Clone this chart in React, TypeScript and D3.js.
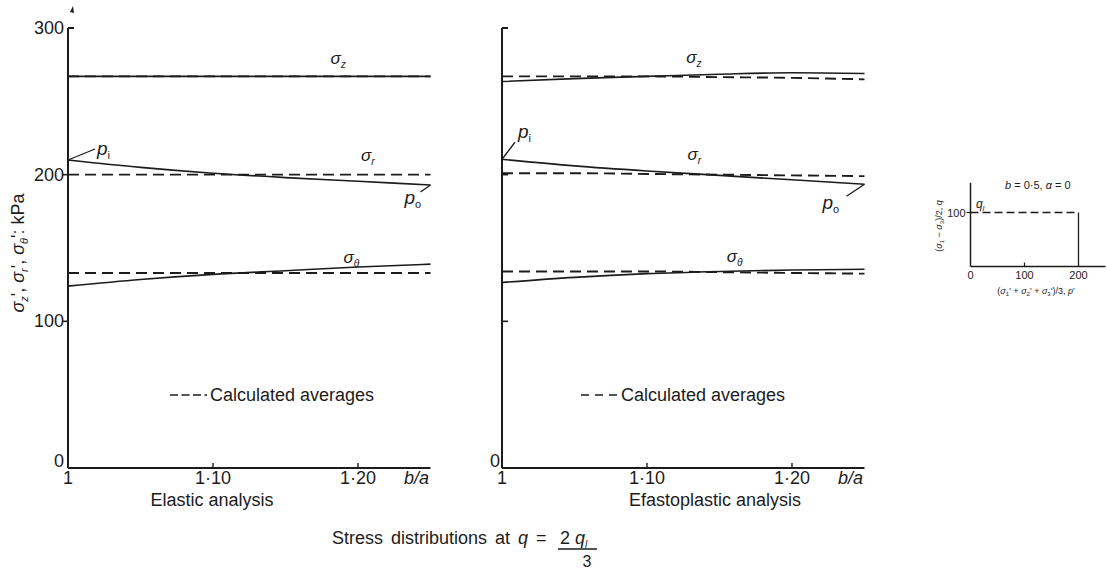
import React from 'react';
import * as d3 from 'd3';

// Radius ratio b/a sampled along the cylinder wall
const baRatio = [1.0, 1.05, 1.1, 1.15, 1.2, 1.25];

// Elastic analysis (kPa)
const elasticSigmaZ = [267, 267, 267, 267, 267, 267];
const elasticSigmaR = [210, 205, 201, 198, 195.5, 193];
const elasticSigmaTheta = [124, 128.5, 132, 134.5, 137, 139];
const elasticSigmaZAvg = [267, 267, 267, 267, 267, 267];
const elasticSigmaRAvg = [200, 200, 200, 200, 200, 200];
const elasticSigmaThetaAvg = [133, 133, 133, 133, 133, 133];

// Elastoplastic analysis (kPa)
const plasticSigmaZ = [263.5, 265.5, 267, 268.5, 269.5, 269];
const plasticSigmaR = [210.5, 206, 202.5, 199.5, 196.5, 193.5];
const plasticSigmaTheta = [126.5, 130, 132.5, 134, 135, 135.5];
const plasticSigmaZAvg = [267, 267, 267, 266.5, 266, 265];
const plasticSigmaRAvg = [201, 201, 200.5, 200, 199.5, 199];
const plasticSigmaThetaAvg = [134, 134, 134, 133.5, 133, 132.5];

// Axis ticks
const yTicks = [0, 100, 200, 300];
const yTickLabels = ['0', '100', '200', '300'];
const xTicks = [1, 1.1, 1.2];
const xTickLabels = ['1', '1·10', '1·20'];

// Stress path inset: q against p'
const insetDashP = [0, 200];
const insetDashQ = [100, 100];
const insetSolidP = [200, 200];
const insetSolidQ = [100, 0];
const insetXTicks = [0, 100, 200];
const insetYTicks = [100];

const INK = '#1c1c1c';
const FONT = '"Liberation Sans", Arial, Helvetica, sans-serif';

const yScale = d3.scaleLinear().domain([0, 300]).range([468, 28]);
const xLeft = d3.scaleLinear().domain([1, 1.25]).range([68, 430.5]);
const xRight = d3.scaleLinear().domain([1, 1.25]).range([502, 864.5]);

const insetX = d3.scaleLinear().domain([0, 250]).range([970.5, 1105.5]);
const insetY = d3.scaleLinear().domain([0, 100]).range([266.5, 212.5]);

function makeLine(x: d3.ScaleLinear<number, number>) {
  return d3
    .line<number>()
    .x((_, i) => x(baRatio[i]))
    .y((d) => yScale(d))
    .curve(d3.curveMonotoneX);
}

function Sigma({ x, y, sub, size = 17 }: { x: number; y: number; sub: string; size?: number }) {
  return (
    <text x={x} y={y} fontFamily={FONT} fontSize={size} fill={INK} fontStyle="italic">
      σ
      <tspan dy={4} fontSize={size * 0.6}>
        {sub}
      </tspan>
    </text>
  );
}

function PLabel({ x, y, sub }: { x: number; y: number; sub: string }) {
  return (
    <text x={x} y={y} fontFamily={FONT} fontSize={19} fill={INK}>
      <tspan fontStyle="italic">p</tspan>
      <tspan dy={4} fontSize={11}>
        {sub}
      </tspan>
    </text>
  );
}

function Legend({ x, y, dash }: { x: number; y: number; dash: string }) {
  return (
    <g>
      <line x1={x} x2={x + 37} y1={y} y2={y} stroke={INK} strokeWidth={1.6} strokeDasharray={dash} />
      <text x={x + 40} y={y + 6} fontFamily={FONT} fontSize={18} fill={INK}>
        Calculated averages
      </text>
    </g>
  );
}

type PanelProps = {
  x: d3.ScaleLinear<number, number>;
  solid: number[][];
  dashed: number[][];
  yLabels: boolean;
  tickSide: number;
  title: string;
  titleX: number;
};

function Panel({ x, solid, dashed, yLabels, tickSide, title, titleX }: PanelProps) {
  const line = makeLine(x);
  const [x0, x1] = x.range();
  const yBottom = yScale(0);
  const yTop = yScale(300);
  return (
    <g>
      {/* axes */}
      <line x1={x0} x2={x0} y1={yTop} y2={yBottom} stroke={INK} strokeWidth={2} />
      <line x1={x0} x2={x1} y1={yBottom} y2={yBottom} stroke={INK} strokeWidth={2} />
      <line x1={x0} x2={x0 + 6} y1={yTop} y2={yTop} stroke={INK} strokeWidth={2} />
      {yTicks.slice(1, 3).map((t) => (
        <line key={t} x1={x0} x2={x0 + tickSide * 6} y1={yScale(t)} y2={yScale(t)} stroke={INK} strokeWidth={1.6} />
      ))}
      {xTicks.slice(1).map((t) => (
        <line key={t} x1={x(t)} x2={x(t)} y1={yBottom} y2={yBottom - 5} stroke={INK} strokeWidth={1.4} />
      ))}
      {yLabels
        ? yTicks.map((t, i) => (
            <text
              key={t}
              x={x0 - 4}
              y={t === 0 ? yBottom - 7 : yScale(t)}
              textAnchor="end"
              dominantBaseline="central"
              fontFamily={FONT}
              fontSize={18}
              fill={INK}
            >
              {yTickLabels[i]}
            </text>
          ))
        : (
          <text x={x0 - 2} y={yBottom - 7} textAnchor="end" dominantBaseline="central" fontFamily={FONT} fontSize={18} fill={INK}>
            {yTickLabels[0]}
          </text>
        )}
      {xTicks.map((t, i) => (
        <text key={t} x={x(t)} y={484} textAnchor="middle" fontFamily={FONT} fontSize={18} fill={INK}>
          {xTickLabels[i]}
        </text>
      ))}
      <text x={x(1.25) - 14} y={484} textAnchor="middle" fontFamily={FONT} fontSize={18} fontStyle="italic" fill={INK}>
        b/a
      </text>
      <text x={titleX} y={506} textAnchor="middle" fontFamily={FONT} fontSize={18} fill={INK}>
        {title}
      </text>
      {/* stress curves */}
      {dashed.map((s, i) => (
        <path key={'d' + i} d={line(s) ?? ''} fill="none" stroke={INK} strokeWidth={1.9} strokeDasharray="11,6" />
      ))}
      {solid.map((s, i) => (
        <path key={'s' + i} d={line(s) ?? ''} fill="none" stroke={INK} strokeWidth={1.6} />
      ))}
    </g>
  );
}

export default function App() {
  const insetDash = d3
    .line<number>()
    .x((_, i) => insetX(insetDashP[i]))
    .y((d) => insetY(d));
  const insetSolid = d3
    .line<number>()
    .x((_, i) => insetX(insetSolidP[i]))
    .y((d) => insetY(d));

  return (
    <svg
      width={1107}
      height={573}
      viewBox="0 0 1107 573"
      style={{ position: 'absolute', left: 0, top: 0, background: '#fff' }}
    >
      <rect width={1107} height={573} fill="#fff" />

      {/* small arrowhead above the left stress axis */}
      <path d={`M${xLeft(1) + 2},${yScale(300) - 16} l3,-6 l1,7 z`} fill={INK} />

      <Panel
        x={xLeft}
        solid={[elasticSigmaZ, elasticSigmaR, elasticSigmaTheta]}
        dashed={[elasticSigmaZAvg, elasticSigmaRAvg, elasticSigmaThetaAvg]}
        yLabels={true}
        tickSide={-1}
        title="Elastic analysis"
        titleX={212}
      />
      <Panel
        x={xRight}
        solid={[plasticSigmaZ, plasticSigmaR, plasticSigmaTheta]}
        dashed={[plasticSigmaZAvg, plasticSigmaRAvg, plasticSigmaThetaAvg]}
        yLabels={false}
        tickSide={1}
        title="Efastoplastic analysis"
        titleX={715}
      />

      {/* y-axis title */}
      <text
        transform="translate(24,253) rotate(-90)"
        textAnchor="middle"
        fontFamily={FONT}
        fontSize={18}
        fill={INK}
      >
        <tspan fontStyle="italic">σ</tspan>
        <tspan dy={4} fontSize={11} fontStyle="italic">z</tspan>
        <tspan dy={-4}>', </tspan>
        <tspan fontStyle="italic">σ</tspan>
        <tspan dy={4} fontSize={11} fontStyle="italic">r</tspan>
        <tspan dy={-4}>', </tspan>
        <tspan fontStyle="italic">σ</tspan>
        <tspan dy={4} fontSize={11} fontStyle="italic">θ</tspan>
        <tspan dy={-4}>': kPa</tspan>
      </text>

      {/* curve labels, elastic */}
      <Sigma x={xLeft(1.181)} y={yScale(elasticSigmaZAvg[4]) - 12} sub="z" />
      <Sigma x={xLeft(1.202)} y={yScale(elasticSigmaRAvg[4]) - 14} sub="r" />
      <Sigma x={xLeft(1.19)} y={yScale(elasticSigmaThetaAvg[4]) - 10} sub="θ" />
      <line x1={xLeft(1)} y1={yScale(elasticSigmaR[0])} x2={xLeft(1) + 27} y2={yScale(elasticSigmaR[0]) - 11} stroke={INK} strokeWidth={1.3} />
      <PLabel x={xLeft(1) + 29} y={yScale(elasticSigmaR[0]) - 5} sub="i" />
      <line x1={xLeft(1.25)} y1={yScale(elasticSigmaR[5])} x2={xLeft(1.25) - 10} y2={yScale(elasticSigmaR[5]) + 7} stroke={INK} strokeWidth={1.3} />
      <PLabel x={xLeft(1.25) - 26} y={yScale(elasticSigmaR[5]) + 19} sub="o" />

      {/* curve labels, elastoplastic */}
      <Sigma x={xRight(1.127)} y={yScale(plasticSigmaZAvg[2]) - 13} sub="z" />
      <Sigma x={xRight(1.128)} y={yScale(plasticSigmaRAvg[3]) - 15} sub="r" />
      <Sigma x={xRight(1.155)} y={yScale(plasticSigmaThetaAvg[3]) - 10} sub="θ" />
      <line x1={xRight(1)} y1={yScale(plasticSigmaR[0])} x2={xRight(1) + 13} y2={yScale(plasticSigmaR[0]) - 17} stroke={INK} strokeWidth={1.3} />
      <PLabel x={xRight(1) + 16} y={yScale(plasticSigmaR[0]) - 21} sub="i" />
      <line x1={xRight(1.25)} y1={yScale(plasticSigmaR[5])} x2={xRight(1.25) - 18} y2={yScale(plasticSigmaR[5]) + 12} stroke={INK} strokeWidth={1.3} />
      <PLabel x={xRight(1.25) - 42} y={yScale(plasticSigmaR[5]) + 25} sub="o" />

      <Legend x={170} y={395} dash="8,3.5" />
      <Legend x={581} y={395} dash="8,6" />

      {/* caption */}
      <text x={332} y={544} fontFamily={FONT} fontSize={18} wordSpacing={3} fill={INK}>
        Stress distributions at <tspan fontStyle="italic">q</tspan> =
      </text>
      <text x={560} y={544} fontFamily={FONT} fontSize={18} fill={INK}>
        2 <tspan fontStyle="italic">q</tspan>
        <tspan dy={4} fontSize={10} fontStyle="italic">l</tspan>
      </text>
      <line x1={558} x2={597} y1={549} y2={549} stroke={INK} strokeWidth={1.6} />
      <text x={587} y={567} textAnchor="middle" fontFamily={FONT} fontSize={16} fill={INK}>
        3
      </text>

      {/* stress path inset */}
      <g>
        <line x1={insetX(0)} x2={insetX(0)} y1={insetY(0)} y2={insetY(155)} stroke={INK} strokeWidth={1.5} />
        <line x1={insetX(0)} x2={insetX(250)} y1={insetY(0)} y2={insetY(0)} stroke={INK} strokeWidth={1.5} />
        {insetYTicks.map((t) => (
          <line key={t} x1={insetX(0) - 4} x2={insetX(0)} y1={insetY(t)} y2={insetY(t)} stroke={INK} strokeWidth={1.2} />
        ))}
        {insetXTicks.slice(1, 2).map((t) => (
          <line key={t} x1={insetX(t)} x2={insetX(t)} y1={insetY(0)} y2={insetY(0) - 4} stroke={INK} strokeWidth={1.2} />
        ))}
        <path d={insetDash(insetDashQ) ?? ''} fill="none" stroke={INK} strokeWidth={1.5} strokeDasharray="8,4" />
        <path d={insetSolid(insetSolidQ) ?? ''} fill="none" stroke={INK} strokeWidth={1.3} />
        {insetYTicks.map((t) => (
          <text key={t} x={insetX(0) - 5} y={insetY(t)} textAnchor="end" dominantBaseline="central" fontFamily={FONT} fontSize={11} fill={INK}>
            {t}
          </text>
        ))}
        {insetXTicks.map((t) => (
          <text key={t} x={insetX(t)} y={insetY(0) + 12} textAnchor="middle" fontFamily={FONT} fontSize={11} fill={INK}>
            {t}
          </text>
        ))}
        <text x={insetX(10)} y={insetY(100) - 5} fontFamily={FONT} fontSize={12} fill={INK}>
          <tspan fontStyle="italic">q</tspan>
          <tspan dy={3} fontSize={8} fontStyle="italic">l</tspan>
        </text>
        <text x={1005} y={189} fontFamily={FONT} fontSize={11} fill={INK}>
          <tspan fontStyle="italic">b</tspan> = 0·5, <tspan fontStyle="italic">α</tspan> = 0
        </text>
        <text transform="translate(942,226) rotate(-90)" textAnchor="middle" fontFamily={FONT} fontSize={9} fill={INK}>
          (<tspan fontStyle="italic">σ</tspan>
          <tspan dy={2} fontSize={6}>1</tspan>
          <tspan dy={-2}> − </tspan>
          <tspan fontStyle="italic">σ</tspan>
          <tspan dy={2} fontSize={6}>3</tspan>
          <tspan dy={-2}>)/2, </tspan>
          <tspan fontStyle="italic">q</tspan>
        </text>
        <text x={1036} y={294} textAnchor="middle" fontFamily={FONT} fontSize={9} fill={INK}>
          (<tspan fontStyle="italic">σ</tspan>
          <tspan dy={2} fontSize={6}>1</tspan>
          <tspan dy={-2}>' + </tspan>
          <tspan fontStyle="italic">σ</tspan>
          <tspan dy={2} fontSize={6}>2</tspan>
          <tspan dy={-2}>' + </tspan>
          <tspan fontStyle="italic">σ</tspan>
          <tspan dy={2} fontSize={6}>3</tspan>
          <tspan dy={-2}>')/3, </tspan>
          <tspan fontStyle="italic">p</tspan>'
        </text>
      </g>
    </svg>
  );
}
